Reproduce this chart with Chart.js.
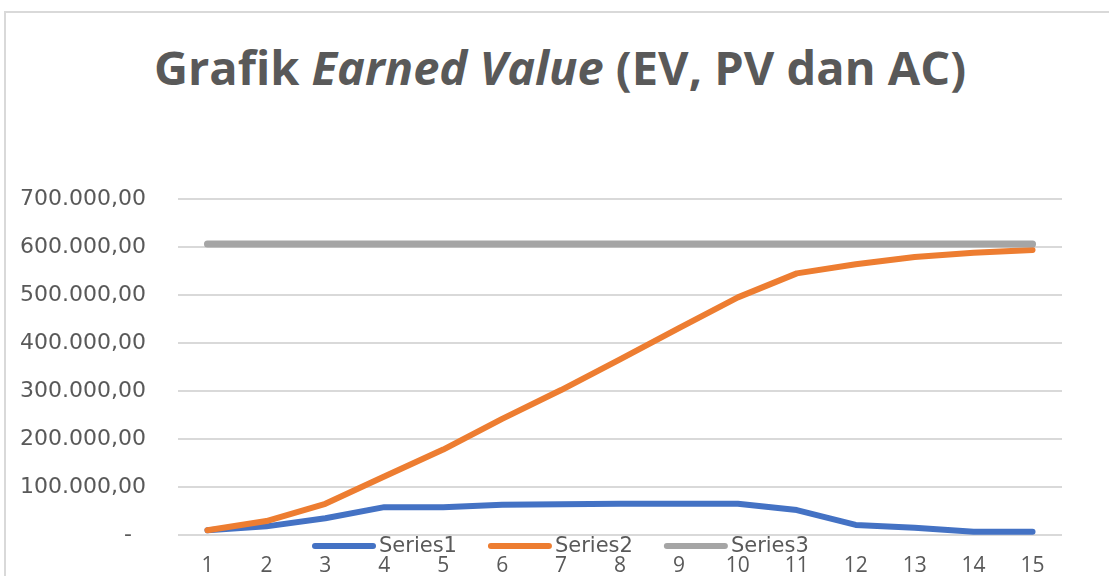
<!DOCTYPE html>
<html>
<head>
<meta charset="utf-8">
<script src="https://cdn.jsdelivr.net/npm/chart.js@4"></script>
<style>
  html, body { margin: 0; padding: 0; background: #fff; overflow: hidden; }
  #frame {
    position: absolute; left: 4px; top: 11px; width: 1200px; height: 700px;
    border: 2px solid #d9d9d9; box-sizing: border-box;
  }
  #title {
    position: absolute; left: 0; top: 35px; width: 1120px; text-align: center;
    font-family: "Open Sans", sans-serif; font-weight: bold; font-size: 47px;
    color: #595959; line-height: 64px; margin: 0;
  }
  #wrap { position: absolute; left: 0; top: 0; width: 1109px; height: 576px; }
</style>
</head>
<body>
<div id="frame"></div>
<h1 id="title">Grafik <i>Earned Value</i> (EV, PV dan AC)</h1>
<div id="wrap"><canvas id="chart" width="1109" height="576"></canvas></div>
<script>
// Periode (minggu)
const periods = ['1', '2', '3', '4', '5', '6', '7', '8', '9', '10', '11', '12', '13', '14', '15'];

// Nilai
const series1 = [10000, 18000, 35000, 58000, 58000, 63000, 64000, 65000, 65000, 65000, 52000, 21000, 15000, 7000, 7000];
const series2 = [10000, 29000, 65000, 122000, 178000, 242000, 302000, 366000, 431000, 495000, 545000, 564000, 579000, 588000, 594000];
const series3 = [606000, 606000, 606000, 606000, 606000, 606000, 606000, 606000, 606000, 606000, 606000, 606000, 606000, 606000, 606000];

const seriesNames = ['Series1', 'Series2', 'Series3'];
const seriesColors = ['#4472C4', '#ED7D31', '#A5A5A5'];

const yMax = 700000;
const yStep = 100000;

// Format angka gaya Indonesia: 700.000,00
function formatRupiah(v) {
    if (v === 0) return '-  ';
    const whole = Math.round(v).toString().replace(/\B(?=(\d{3})+(?!\d))/g, '.');
    return whole + ',00';
}

// Legenda digambar manual supaya menumpuk di atas label sumbu X seperti aslinya
const legendPlugin = {
    id: 'overlapLegend',
    afterDraw(chart) {
        const ctx = chart.ctx;
        const y = 546;
        let x = 312;
        ctx.save();
        ctx.font = '21px "DejaVu Sans", sans-serif';
        ctx.textBaseline = 'middle';
        chart.data.datasets.forEach(ds => {
            ctx.strokeStyle = ds.borderColor;
            ctx.lineWidth = 6;
            ctx.lineCap = 'round';
            ctx.beginPath();
            ctx.moveTo(x + 3, y);
            ctx.lineTo(x + 61, y);
            ctx.stroke();
            ctx.fillStyle = '#595959';
            ctx.fillText(ds.label, x + 67, y + 1);
            x += 67 + ctx.measureText(ds.label).width + 31;
        });
        ctx.restore();
    }
};

function makeDataset(i, values, width, order) {
    return {
        label: seriesNames[i],
        data: values,
        borderColor: seriesColors[i],
        backgroundColor: seriesColors[i],
        borderWidth: width,
        borderCapStyle: 'round',
        borderJoinStyle: 'round',
        pointRadius: 0,
        tension: 0,
        fill: false,
        order: order
    };
}

const ctx = document.getElementById('chart').getContext('2d');
new Chart(ctx, {
    type: 'line',
    data: {
        labels: periods,
        datasets: [
            makeDataset(0, series1, 6, 3),
            makeDataset(1, series2, 6, 2),
            makeDataset(2, series3, 7, 1)
        ]
    },
    options: {
        responsive: false,
        animation: false,
        layout: { padding: { left: 0, top: 199, right: 47, bottom: 0 } },
        plugins: {
            legend: { display: false },
            title: { display: false },
            tooltip: { enabled: false }
        },
        scales: {
            x: {
                offset: true,
                grid: { display: false, drawTicks: false },
                border: { display: false },
                ticks: {
                    color: '#595959',
                    font: { family: 'Open Sans', size: 21 },
                    padding: 18,
                    maxRotation: 0,
                    autoSkip: false
                },
                afterFit(scale) { scale.height = 41; }
            },
            y: {
                min: 0,
                max: yMax,
                grid: { color: '#d9d9d9', lineWidth: 2, drawTicks: false },
                border: { display: false },
                ticks: {
                    stepSize: yStep,
                    color: '#595959',
                    font: { family: 'DejaVu Sans', size: 22 },
                    padding: 32,
                    callback: v => formatRupiah(v)
                },
                afterFit(scale) {
                    scale.width = 178;
                    // jangan biarkan padding label menggeser area plot
                    scale.paddingTop = 0;
                    scale.paddingBottom = 0;
                }
            }
        }
    },
    plugins: [legendPlugin]
});
</script>
</body>
</html>
